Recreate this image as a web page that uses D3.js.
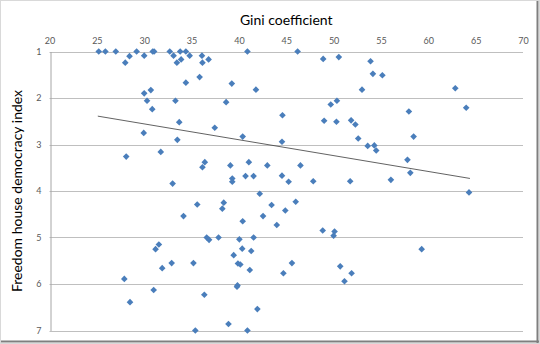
<!DOCTYPE html>
<html>
<head>
<meta charset="utf-8">
<script src="https://cdn.jsdelivr.net/npm/d3@7"></script>
<style>
  html, body { margin: 0; padding: 0; background: #fff; }
  svg { display: block; }
  text { font-family: Lato, "Open Sans", sans-serif; }
</style>
</head>
<body>
<svg id="chart" width="540" height="344"></svg>
<script>
// Gini coefficient (x) vs Freedom House democracy index (y), one entry per country
const gini = [
  25.2, 25.9, 27.0, 28.0, 28.45, 29.2, 30.0, 30.9, 31.05, 32.7,
  33.1, 33.45, 33.8, 33.9, 34.4, 34.8, 36.1, 36.15, 36.8, 35.85,
  34.4, 30.0, 30.7, 30.3, 33.3, 30.85, 33.7, 29.95, 33.5, 37.45,
  31.75, 40.9, 46.2, 48.9, 50.55, 53.9, 54.15, 55.15, 39.25, 41.8,
  53.0, 38.65, 50.35, 49.7, 44.6, 49.0, 50.3, 51.85, 52.3, 40.4,
  44.55, 52.6, 53.6, 54.3, 54.5, 62.85, 64.0, 57.95, 58.45, 57.8,
  58.1, 56.05, 64.3, 59.3, 28.1, 36.15, 36.4, 33.0, 35.6, 34.15,
  36.6, 36.85, 37.85, 31.55, 31.2, 39.1, 41.05, 43.0, 46.5, 39.3,
  39.3, 40.7, 41.55, 44.55, 45.25, 47.85, 51.75, 42.2, 38.4, 38.25,
  43.45, 46.0, 44.9, 40.4, 42.55, 44.0, 48.85, 50.1, 50.0, 40.05,
  41.55, 40.35, 41.3, 32.9, 31.9, 35.2, 27.9, 31.0, 36.35, 28.5,
  35.4, 39.45, 39.9, 40.15, 41.15, 44.7, 45.6, 50.7, 51.9, 51.15,
  39.8, 39.85, 41.95, 38.9, 40.9
];
const democracy = [
  1.0, 1.0, 1.0, 1.24, 1.10, 1.0, 1.09, 1.0, 1.0, 1.0,
  1.09, 1.24, 1.0, 1.17, 1.0, 1.09, 1.09, 1.24, 1.17, 1.55,
  1.67, 1.90, 1.83, 2.06, 2.06, 2.24, 2.52, 2.75, 2.90, 2.64,
  3.16, 1.0, 1.0, 1.16, 1.12, 1.21, 1.48, 1.51, 1.69, 1.82,
  1.82, 2.09, 2.06, 2.14, 2.37, 2.49, 2.51, 2.48, 2.57, 2.83,
  2.94, 2.87, 3.03, 3.02, 3.13, 1.79, 2.21, 2.29, 2.83, 3.33,
  3.61, 3.76, 4.03, 5.25, 3.26, 3.49, 3.38, 3.84, 4.29, 4.54,
  5.0, 5.05, 5.0, 5.15, 5.25, 3.45, 3.38, 3.45, 3.45, 3.73,
  3.80, 3.68, 3.68, 3.67, 3.80, 3.79, 3.79, 4.06, 4.25, 4.38,
  4.30, 4.23, 4.42, 4.65, 4.54, 4.73, 4.85, 4.87, 4.96, 5.04,
  5.0, 5.24, 5.29, 5.55, 5.66, 5.55, 5.89, 6.13, 6.23, 6.39,
  7.0, 5.38, 5.56, 5.58, 5.70, 5.77, 5.55, 5.62, 5.77, 5.94,
  6.06, 6.03, 6.54, 6.86, 7.0
];
// linear trendline endpoints: [gini, democracy index]
const trendStart = [25.1, 2.39];
const trendEnd = [64.4, 3.73];
const xTicks = [20, 25, 30, 35, 40, 45, 50, 55, 60, 65, 70];
const yTicks = [1, 2, 3, 4, 5, 6, 7];

const svg = d3.select("#chart");
const W = 540, H = 344;
const plot = { left: 49.5, right: 523, top: 51.5, bottom: 330.5 };

// chart area frame with a darker shadow edge on the right and bottom
svg.append("rect").attr("x", 0.5).attr("y", 0.5).attr("width", W - 1).attr("height", H - 1)
  .attr("fill", "#fff").attr("stroke", "#d9d9d9");
svg.append("line").attr("x1", W - 2.5).attr("x2", W - 2.5).attr("y1", 1).attr("y2", H - 1)
  .attr("stroke", "#7f7f7f").attr("stroke-width", 2);
svg.append("line").attr("x1", 1).attr("x2", W - 1).attr("y1", H - 2.5).attr("y2", H - 2.5)
  .attr("stroke", "#7f7f7f").attr("stroke-width", 2);

const x = d3.scaleLinear().domain([20, 70]).range([plot.left, plot.right]);
const y = d3.scaleLinear().domain([1, 7]).range([plot.top, plot.bottom]);

// horizontal gridlines
svg.append("g").selectAll("line").data(yTicks).join("line")
  .attr("x1", plot.left).attr("x2", plot.right)
  .attr("y1", d => Math.round(y(d)) + 0.5).attr("y2", d => Math.round(y(d)) + 0.5)
  .attr("stroke", "#bfbfbf").attr("stroke-width", 1);

// x axis on top, y axis on the left
const xAxis = svg.append("g").attr("transform", `translate(0,${Math.round(plot.top) + 0.5})`)
  .call(d3.axisTop(x).tickValues(xTicks).tickFormat(d3.format("d")).tickSize(0).tickPadding(9));
xAxis.select(".domain").remove();
const yAxis = svg.append("g").attr("transform", `translate(${Math.round(plot.left) + 0.5},0)`)
  .call(d3.axisLeft(y).tickValues(yTicks).tickFormat(d3.format("d")).tickSize(0).tickPadding(9));
yAxis.select(".domain").attr("stroke", "#a6a6a6");
svg.selectAll(".tick text").attr("fill", "#595959").style("font-size", "9px")
  .style("font-family", "Lato, 'Open Sans', sans-serif");

// linear trendline
svg.append("line")
  .attr("x1", x(trendStart[0])).attr("y1", y(trendStart[1]))
  .attr("x2", x(trendEnd[0])).attr("y2", y(trendEnd[1]))
  .attr("stroke", "#3a3a3a").attr("stroke-width", 0.8);

// diamond markers
const n = gini.length;
const diamond = d3.symbol().type(d3.symbolSquare).size(22);
svg.append("g").selectAll("path").data(d3.range(n)).join("path")
  .attr("d", diamond)
  .attr("transform", i => `translate(${x(gini[i])},${y(democracy[i])}) rotate(45)`)
  .attr("fill", "#4a7ebb");

// axis titles
svg.append("text").attr("x", (plot.left + plot.right) / 2).attr("y", 25)
  .attr("text-anchor", "middle").style("font-size", "14px").attr("fill", "#000")
  .text("Gini coefficient");
svg.append("text")
  .attr("transform", `translate(22,${(plot.top + plot.bottom) / 2}) rotate(-90)`)
  .attr("text-anchor", "middle").style("font-size", "14px").attr("fill", "#000")
  .text("Freedom house democracy index");
</script>
</body>
</html>
